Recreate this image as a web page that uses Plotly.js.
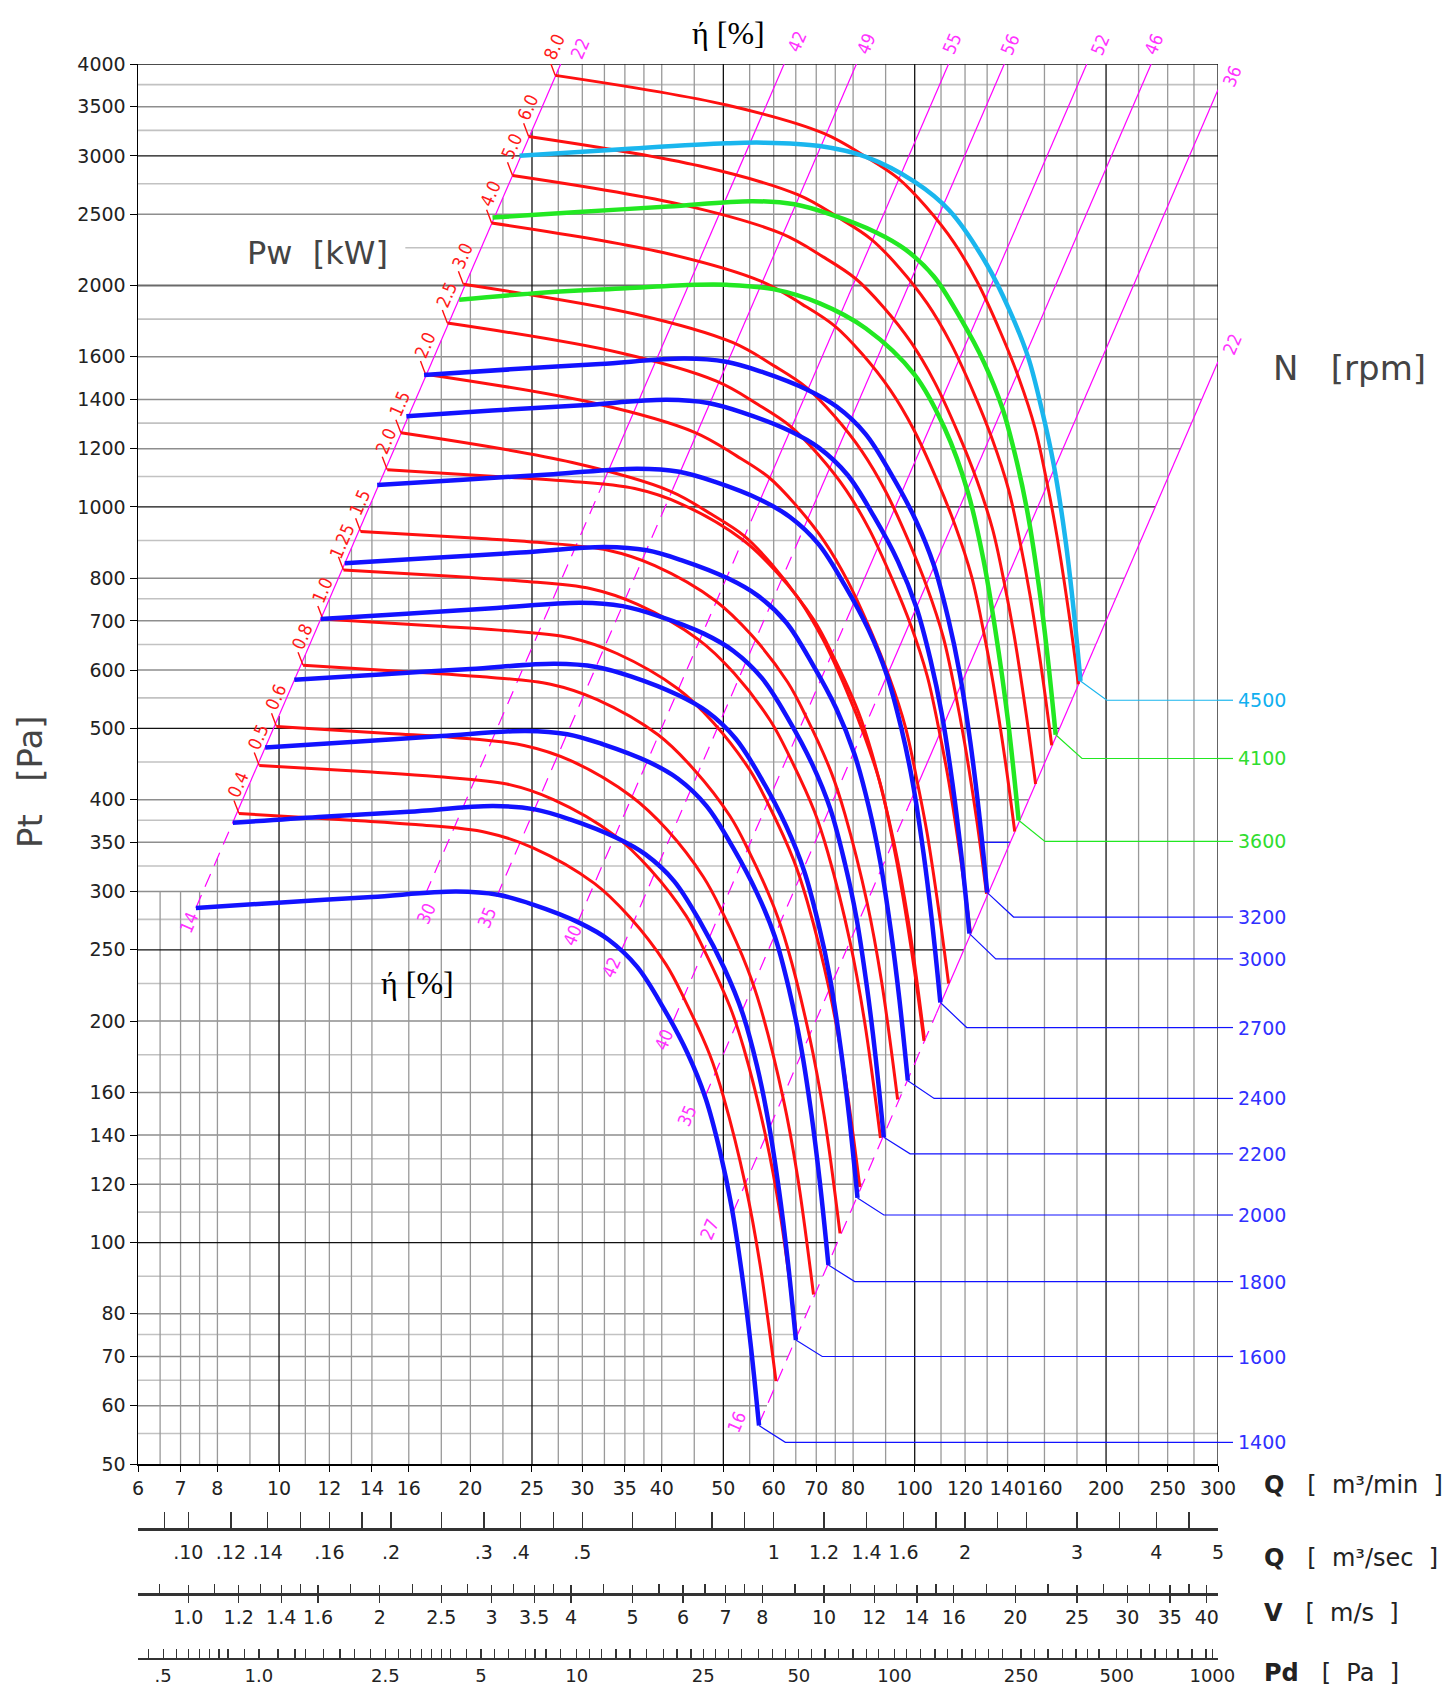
<!DOCTYPE html>
<html>
<head>
<meta charset="utf-8">
<script src="https://cdn.plot.ly/plotly-3.0.1.min.js"></script>
<style>
html,body{margin:0;padding:0;background:#fff;}
#chart{width:1454px;height:1689px;}
</style>
</head>
<body>
<div id="chart"></div>
<script>
// ================= DATA =================
// Main axes
const qTicks = [6,7,8,10,12,14,16,20,25,30,35,40,50,60,70,80,100,120,140,160,200,250,300];
const ptTicks = [50,60,70,80,100,120,140,160,200,250,300,350,400,500,600,700,800,1000,1200,1400,1600,2000,2500,3000,3500,4000];

// Grid values
const gridQ = [6.5,7,7.5,8,9,11,12,13,14,16,18,20,22.5,27.5,30,32.5,35,37.5,40,45,55,60,65,70,75,80,90,110,120,130,140,160,180,225,250,275];
const gridQDark = [10,25,50,100,200,300];
const gridP = [55,60,65,70,75,80,90,110,120,130,140,160,180,200,225,275,300,325,350,375,400,450,550,600,650,700,750,800,900,1100,1200,1300,1400,1600,1800,2250,2500,2750,3250,3500,3750];
const gridPMid = [2000];
const gridPDark = [100,250,500,1000,3000,4000];
const gridPStartQ = {2250: 15.8};
const blueGridP = [350];

// Secondary scales
const outletArea = 0.12;   // m2
const airDensity = 1.2;    // kg/m3
const qsLabelVals = [0.12,0.14,0.16,0.2,0.25,0.35,0.4,0.5,1,1.2,1.4,1.6,2,3,4,5];
const qsLabelText = ['.10','.12','.14','.16','.2','.3','.4','.5','1','1.2','1.4','1.6','2','3','4','5'];
const qsMinor = [0.11,0.18,0.225,0.3,0.45,0.6,0.7,0.8,0.9,1.8,2.25,2.5,3.5,4.5];
const vLabelVals = [1,1.2,1.4,1.6,2,2.5,3,3.5,4,5,6,7,8,10,12,14,16,20,25,30,35,40];
const vLabelText = ['1.0','1.2','1.4','1.6','2','2.5','3','3.5','4','5','6','7','8','10','12','14','16','20','25','30','35','40'];
const vMinor = [0.9,1.1,1.3,1.5,1.8,2.25,2.75,3.25,3.75,4.5,5.5,6.5,7.5,9,11,13,15,18,22.5,27.5,32.5,37.5];
const pdLabelVals = [0.5,1,2.5,5,10,25,50,100,250,500,1000];
const pdLabelText = ['.5','1.0','2.5','5','10','25','50','100','250','500','1000'];
const pdMinor = [0.45,0.55,0.6,0.65,0.7,0.75,0.8,0.9,1.15,1.3,1.4,1.6,1.8,2,2.25,2.75,3,3.25,3.5,3.75,4,4.5,5.5,6.1,6.9,7.4,8,8.9,11,12,13.3,14.7,16.6,18.8,20.7,22.9,27.4,30,33,37.4,41.4,45.3,54.7,60.4,66.8,74,81.7,89,109,121,134,147,163,180,198,219,275,304,337,372,404,440,542,596,660,719,779,862,954];

// Speed curves  Q [m3/min], Pt [Pa]
const q1400 = [7.4,10.1,14,19,22.1,25.1,29.7,33,36.6,40.3,43.9,46.9,49.4,51.5,53.5,55.2,56.9];
const p1400 = [285,290,295,300,297,288,272,258,237,208,181,157,133,112,90.4,72.7,56.4];
const q1600 = [8.46,11.54,16.0,21.71,25.26,28.69,33.94,37.71,41.83,46.06,50.17,53.6,56.46,58.86,61.14,63.09,65.03];
const p1600 = [372,379,385,392,388,376,355,337,310,272,236,205,174,146,118.1,95.0,73.7];
const q1800 = [9.51,12.99,18.0,24.43,28.41,32.27,38.19,42.43,47.06,51.81,56.44,60.3,63.51,66.21,68.79,70.97,73.16];
const p1800 = [471,479,488,496,491,476,450,427,392,344,299,260,220,185,149.4,120.2,93.2];
const q2000 = [10.57,14.43,20.0,27.14,31.57,35.86,42.43,47.14,52.29,57.57,62.71,67.0,70.57,73.57,76.43,78.86,81.29];
const p2000 = [582,592,602,612,606,588,555,527,484,425,369,320,271,229,184.5,148.4,115];
const q2200 = [11.63,15.87,22.0,29.86,34.73,39.44,46.67,51.86,57.51,63.33,68.99,73.7,77.63,80.93,84.07,86.74,89.41];
const p2200 = [704,716,729,741,733,711,672,637,585,514,447,388,328,277,223.2,179.5,139];
const q2400 = [12.69,17.31,24.0,32.57,37.89,43.03,50.91,56.57,62.74,69.09,75.26,80.4,84.69,88.29,91.71,94.63,97.54];
const p2400 = [838,852,867,882,873,846,799,758,697,611,532,461,391,329,265.7,213.6,166];
const q2700 = [14.27,19.48,27.0,36.64,42.62,48.41,57.28,63.64,70.59,77.72,84.66,90.45,95.27,99.32,103.18,106.46,109.74];
const p2700 = [1071,1089,1108,1127,1116,1082,1022,969,890,781,680,590,500,421,339.6,273.1,212];
const q3000 = [15.86,21.64,30.0,40.71,47.36,53.79,63.64,70.71,78.43,86.36,94.07,100.5,105.86,110.36,114.64,118.29,121.93];
const p3000 = [1328,1352,1375,1398,1384,1342,1268,1203,1105,969,844,732,620,522,421.3,338.8,263];
const q3200 = [16.91,23.09,32.0,43.43,50.51,57.37,67.89,75.43,83.66,92.11,100.34,107.2,112.91,117.71,122.29,126.17,130.06];
const p3200 = [1511,1538,1564,1591,1575,1527,1442,1368,1257,1103,960,833,705,594,479.4,385.5,299];
const q3600 = [19.2,25.1,35.1,45.2,50.6,59.9,70.9,83.8,100,111.5,121.3,128.3,134,140.2,145.7];
const p3600 = [1912,1951,1982,2004,2004,1977,1891,1748,1512,1278,1046,847,678,512,375];
const q4100 = [21.67,29.58,41.0,55.64,64.72,73.51,86.98,96.64,107.19,118.02,128.56,137.35,144.67,150.82,156.68,161.66,166.64];
const p4100 = [2474,2517,2561,2604,2578,2500,2361,2239,2057,1805,1571,1363,1154,972,784.6,631,490];
const q4500 = [23.9,35.1,50.6,57.9,70.9,83.8,100,113.4,129.7,141,150.8,158.6,165.4,172.5,178.1,182.3];
const p4500 = [3001,3066,3121,3127,3094,2991,2766,2529,2139,1850,1598,1352,1143,907,716,580];

const rpm = [1400,1600,1800,2000,2200,2400,2700,3000,3200,3600,4100,4500];
const rpmLabelPt = [53.5,70,88.5,109,132,157,196,243,277,351,455,546];
const speedQ = [q1400,q1600,q1800,q2000,q2200,q2400,q2700,q3000,q3200,q3600,q4100,q4500];
const speedP = [p1400,p1600,p1800,p2000,p2200,p2400,p2700,p3000,p3200,p3600,p4100,p4500];

// Power curves (red)
const qR1 = [27.2,50.6,72.1,83.8,94.2,104.2,115.3,125.4,136.4,145.9,154.7,161.4,167.3,174.9,180.9];
const pR1 = [3860,3518,3217,2991,2796,2558,2287,2023,1729,1495,1278,1081,916,714.5,574];
const qR2 = [24.7,45.95,65.47,76.10,85.54,94.62,104.70,113.87,123.86,132.49,140.48,146.57,151.9,158.8,164.27];
const pR2 = [3188,2906,2657,2470,2309,2113,1889,1671,1428,1235,1056,893,757,590,474];
const qR3 = [23.3,43.35,61.76,71.79,80.69,89.26,98.77,107.42,116.84,124.98,132.52,138.26,143.3,149.8,154.96];
const pR3 = [2822,2572,2352,2187,2044,1870,1672,1479,1264,1093,934,790,670,522,420];
const qR4 = [21.6,40.18,57.26,66.55,74.81,82.75,91.56,99.58,108.32,115.86,122.85,128.17,132.8,138.9,143.66];
const pR4 = [2432,2217,2027,1885,1762,1612,1441,1275,1089,942,805,681,577,450,362];
const qR5 = [19.5,36.28,51.69,60.08,67.53,74.70,82.66,89.90,97.79,104.60,110.91,115.71,119.9,125.4,129.69];
const pR5 = [2007,1829,1673,1555,1454,1330,1189,1052,899,777,665,562,476,371.5,298];
const qR6 = [18.4,34.23,48.77,56.69,63.72,70.49,78.0,84.83,92.27,98.70,104.65,109.18,113.2,118.3,122.37];
const pR6 = [1778,1621,1482,1378,1288,1178,1054,932,796,689,589,498,422,329,264];
const qR7 = [17.0,31.63,45.06,52.38,58.87,65.13,72.06,78.38,85.25,91.19,96.69,100.87,104.6,109.3,113.06];
const pR7 = [1515,1381,1263,1174,1098,1004,898,794,679,587,502,424,360,280,225];
const qR8 = [15.55,28.93,41.22,47.91,53.85,59.57,65.92,71.69,77.98,83.41,88.44,92.27,95.6,100.0,103.42];
const pR8 = [1261,1149,1051,977,914,836,747,661,565,488,418,353,299,233,188];
const qR9 = [14.8,22.24,28.06,36.27,42.95,53.55,60.92,69.47,74.44,81.44,85.54,92.74,97.69,103.51];
const pR9 = [1123,1099,1085,1059,1009,903,812,701,627,528,464,350,274,190];
const qR10 = [13.44,20.20,25.48,32.94,39.00,48.63,55.32,63.09,67.60,73.96,77.68,84.22,88.72,94.0];
const pR10 = [926,907,895,873,832,745,670,578,517,435,382,289,226,156.5];
const qR11 = [12.63,18.98,23.95,30.96,36.65,45.70,51.99,59.29,63.53,69.50,73.0,79.14,83.37,88.33];
const pR11 = [821,804,793,774,737,660,594,512,458,386,339,256,200,138.7];
const qR12 = [11.72,17.62,22.22,28.73,34.01,42.40,48.24,55.01,58.95,64.50,67.74,73.44,77.36,81.97];
const pR12 = [704,689,680,664,632,566,509,439,393,331,291,220,172,119];
const qR13 = [10.91,16.40,20.69,26.74,31.66,39.47,44.91,51.21,54.88,60.04,63.06,68.36,72.02,76.30];
const pR13 = [609,596,588,574,547,490,440,380,340,286,252,190,149,102.9];
const qR14 = [9.91,14.89,18.79,24.29,28.76,35.85,40.79,46.52,49.85,54.53,57.28,62.10,65.42,69.31];
const pR14 = [503,492,486,474,452,404,364,314,281,236,208,157,123,85.0];
const qR15 = [9.31,13.99,17.65,22.82,27.02,33.68,38.32,43.70,46.83,51.23,53.81,58.34,61.46,65.11];
const pR15 = [445,436,430,420,400,358,322,278,248,209,184,139,109,75.2];
const qR16 = [8.65,13.0,16.4,21.2,25.1,31.3,35.6,40.6,43.5,47.6,50.0,54.2,57.1,60.5];
const pR16 = [383,375,370,361,344,308,277,239,213.6,180,158,119.4,93.4,64.8];
const redQ = [qR1,qR2,qR3,qR4,qR5,qR6,qR7,qR8,qR9,qR10,qR11,qR12,qR13,qR14,qR15,qR16];
const redP = [pR1,pR2,pR3,pR4,pR5,pR6,pR7,pR8,pR9,pR10,pR11,pR12,pR13,pR14,pR15,pR16];
const pwLabels = ['8.0','6.0','5.0','4.0','3.0','2.5','2.0','1.5','2.0','1.5','1.25','1.0','0.8','0.6','0.5','0.4'];

// Efficiency (system) lines: bottom point, dash->solid switch point, top point
const effBottomQ = [7.4,17.0,22.0,29.5,34.6,41.7,46.8,51.8,56.9];
const effBottomP = [285,297.7,295.2,272.4,250.2,200,157.9,110,56.7];
const effSwitchQ = [8.60,32.08,41.59,56.38,66.71,78.02,88.13,97.53,108.2];
const effSwitchP = [385,1060,1055,995,930,700,560,390,205];
const effTopQ = [27.74,62.32,80.98,113.05,138.34,186.5,235.5,300,300];
const effTopP = [4000,4000,4000,4000,4000,4000,4000,3690,1575];
const effBottomText = ['14','30','35','40','42','40','35','27','16'];
const effTopText = ['22','42','49','55','56','52','46','36','22'];
const effBottomLabQ = [7.22,17.05,21.2,29.0,33.4,40.3,43.8,47.6,52.5];
const effBottomLabP = [272,280,277,262,237,189,149,104.4,57.1];
const effTopLabQ = [29.7,65.2,83.8,114.3,141,195.6,237.3];
const effRightLabP = [3846,1663];

// ================= STYLE =================
const L = Math.log10;
const FONT = 'DejaVu Sans, Liberation Sans, sans-serif';
const NARROW = 'Liberation Sans Narrow, DejaVu Sans Condensed, DejaVu Sans, sans-serif';
const BLUE = '#1212ff', RED = '#ff1010', GREEN = '#22e822', CYAN = '#1ab6ee', MAG = '#ff00ff';
const DOM_X = 1080/1095;
const DOM_YB = (1683-1464)/1619;
const NB = '\u00a0';
const SMOOTH = 1.0;
function speedColor(n){ return n===4500 ? CYAN : (n===4100||n===3600) ? GREEN : BLUE; }
function labelColor(n){ return n===4500 ? '#10b0f0' : (n===4100||n===3600) ? '#30dd30' : '#3030ff'; }

// ================= BUILD =================
const traces = [];
const kL = effTopP[0]/(effTopQ[0]*effTopQ[0]);
const kR = effTopP[8]/(effTopQ[8]*effTopQ[8]);
function hEnd(p){ return (p>=effTopP[8] || p<effBottomP[8]) ? 300 : Math.min(300,Math.sqrt(p/kR)); }
function vGrid(list){
  const x=[],y=[];
  list.forEach(q=>{ const top=Math.min(4000,Math.max(300,kL*q*q)); x.push(q,q,null); y.push(50,top,null); });
  return {x,y};
}
function hGrid(list){
  const x=[],y=[];
  list.forEach(p=>{ x.push(gridPStartQ[p]||6,hEnd(p),null); y.push(p,p,null); });
  return {x,y};
}
function lineTrace(d,color,width,dash,axis){
  return {x:d.x,y:d.y,type:'scatter',mode:'lines',xaxis:axis||'x',yaxis:'y',
    line:{color:color,width:width,dash:dash||'solid'},hoverinfo:'skip',showlegend:false,connectgaps:false};
}
// Q where a curve crosses a given Pt (on its falling side)
function crossQ(q,p,level){
  for(let i=p.length-1;i>0;i--){
    if((p[i]-level)*(p[i-1]-level)<=0){
      const t=(L(level)-L(p[i-1]))/(L(p[i])-L(p[i-1]));
      return Math.pow(10,L(q[i-1])+t*(L(q[i])-L(q[i-1])));
    }
  }
  return q[q.length-1];
}
const gridPLabeled = gridP.filter(p=>ptTicks.includes(p));
const gridPPlain = gridP.filter(p=>!ptTicks.includes(p));
traces.push(lineTrace(hGrid(gridPPlain),'#c2c2c2',1.6));
traces.push(lineTrace(hGrid(gridPLabeled),'#8e8e8e',1.5));
traces.push(lineTrace(vGrid(gridQ),'#999',1.3));
traces.push(lineTrace(hGrid(gridPMid),'#6a6a6a',2));
traces.push(lineTrace(vGrid(gridQDark),'#111',1.3));
traces.push(lineTrace(hGrid(gridPDark),'#111',1.3));
// short blue grid piece between the 3200 rpm curve and the boundary line
{
  const x=[],y=[];
  blueGridP.forEach(p=>{ x.push(crossQ(q3200,p3200,p),hEnd(p),null); y.push(p,p,null); });
  traces.push(lineTrace({x,y},BLUE,1.3));
}

// efficiency lines
const dX=[],dY=[],sX=[],sY=[];
effBottomQ.forEach((q,i)=>{
  dX.push(q,effSwitchQ[i],null); dY.push(effBottomP[i],effSwitchP[i],null);
  sX.push(effSwitchQ[i],effTopQ[i],null); sY.push(effSwitchP[i],effTopP[i],null);
});
traces.push(lineTrace({x:dX,y:dY},MAG,1.2,'14px,9px'));
traces.push(lineTrace({x:sX,y:sY},MAG,1.2));

// red power curves (with the small label tick at each start)
const tX=[],tY=[];
redQ.forEach((q,i)=>{
  traces.push({x:q,y:redP[i],type:'scatter',mode:'lines',line:{color:RED,width:3,shape:'spline',smoothing:SMOOTH},hoverinfo:'skip',showlegend:false});
  tX.push(q[0],q[0]*0.982,null); tY.push(redP[i][0],redP[i][0]*1.042,null);
});
traces.push(lineTrace({x:tX,y:tY},RED,1.4));
// speed curves + leaders
rpm.forEach((n,i)=>{
  const q=speedQ[i], p=speedP[i];
  traces.push({x:q,y:p,type:'scatter',mode:'lines',line:{color:speedColor(n),width:4.5,shape:'spline',smoothing:SMOOTH},hoverinfo:'skip',showlegend:false});
  const qe=q[q.length-1], pe=p[p.length-1];
  traces.push(lineTrace({x:[qe,qe*1.1,300],y:[pe,rpmLabelPt[i],rpmLabelPt[i]]},speedColor(n),1.2));
  traces.push(lineTrace({x:[0,1],y:[rpmLabelPt[i],rpmLabelPt[i]]},speedColor(n),1.2,'solid','x5'));
});
// dummy traces for secondary scales
['x2','x3','x4','x6'].forEach(ax=>traces.push({x:[1],y:[100],xaxis:ax,yaxis:'y',type:'scatter',mode:'markers',marker:{opacity:0,size:1},hoverinfo:'skip',showlegend:false}));

// ================= ANNOTATIONS =================
const ann=[];
function A(o){ o.showarrow=false; if(!o.xanchor) o.xanchor='center'; if(!o.yanchor) o.yanchor='middle'; ann.push(o); }
redQ.forEach((q,i)=>A({x:L(q[0]),y:L(redP[i][0]),xref:'x',yref:'y',text:pwLabels[i],textangle:-66.6,xshift:-1,yshift:29,font:{family:NARROW,size:18,color:'#ff1a1a'}}));
effBottomText.forEach((t,i)=>A({x:L(effBottomLabQ[i]),y:L(effBottomLabP[i]),xref:'x',yref:'y',text:t,textangle:-66.6,font:{family:NARROW,size:18,color:'#ff33ff'}}));
const topShift=[16,23,21,21,20,20,20];
effTopLabQ.forEach((q,i)=>A({x:L(q),y:1,xref:'x',yref:'paper',yshift:topShift[i],text:effTopText[i],textangle:-66.6,font:{family:NARROW,size:18,color:'#ff33ff'}}));
effRightLabP.forEach((p,i)=>A({x:DOM_X,y:L(p),xref:'paper',yref:'y',xshift:14,text:effTopText[7+i],textangle:-66.6,font:{family:NARROW,size:18,color:'#ff33ff'}}));
rpm.forEach((n,i)=>A({x:1,y:L(rpmLabelPt[i]),xref:'paper',yref:'y',xanchor:'left',xshift:3,text:String(n),font:{family:FONT,size:19,color:labelColor(n)}}));
A({x:L(51),y:1,xref:'x',yref:'paper',yshift:31,text:'ή [%]',font:{family:'Liberation Serif, DejaVu Serif, serif',size:32,color:'#000'}});
A({x:L(16.5),y:L(225),xref:'x',yref:'y',text:'ή [%]',font:{family:'Liberation Serif, DejaVu Serif, serif',size:32,color:'#000'}});
A({x:L(11.5),y:L(2215),xref:'x',yref:'y',text:'Pw'+NB+NB+'[kW]',bgcolor:'#fff',borderpad:4,font:{family:FONT,size:32,color:'#444'}});
A({x:(1350-138)/1095,y:(1683-368)/1619,xref:'paper',yref:'paper',text:'N'+NB+NB+NB+'[rpm]',font:{family:FONT,size:34,color:'#444'}});
A({x:(30-138)/1095,y:(1683-782)/1619,xref:'paper',yref:'paper',text:'Pt'+NB+NB+NB+'[Pa]',textangle:-90,font:{family:FONT,size:34,color:'#444'}});
const axTitles=[['Q','m³/min',(1683-1485)/1619],['Q','m³/sec',(1683-1558)/1619],['V','m/s',(1683-1613)/1619],['Pd','Pa',(1683-1673)/1619]];
axTitles.forEach(t=>A({x:1,y:t[2],xref:'paper',yref:'paper',xanchor:'left',xshift:29,
  text:'<b>'+t[0]+'</b>'+NB+NB+NB+'['+NB+NB+t[1]+NB+NB+']',font:{family:FONT,size:24,color:'#222'}}));

// ================= LAYOUT =================
const tickFont={family:FONT,size:19,color:'#222'};
const eps=1e-6;
const vMin=6/60/outletArea, vMax=300/60/outletArea;
const pdMin=0.5*airDensity*vMin*vMin, pdMax=0.5*airDensity*vMax*vMax;
const posQs=(1683-1529.3)/1619, posV=(1683-1594.3)/1619, posPd=(1683-1658.7)/1619;
function secAxis(pos,range,vals,text,minor,len,standoff,fsize,majorTicks,majorLen){
  return {overlaying:'x',anchor:'free',position:pos,type:'log',range:range,
    tickmode:'array',tickvals:vals,ticktext:text,ticks:majorTicks,ticklen:majorLen,tickwidth:1.3,tickcolor:'#333',
    minor:{tickmode:'array',tickvals:minor,ticks:'inside',ticklen:len,tickwidth:1.3,tickcolor:'#333',showgrid:false},
    showline:true,linecolor:'#333',linewidth:2.5,showgrid:false,zeroline:false,
    tickfont:{family:FONT,size:fsize,color:'#222'},tickangle:0,ticklabelstandoff:standoff,fixedrange:true};
}
const layout={
  width:1454,height:1689,
  margin:{l:138,r:221,t:64,b:6},
  paper_bgcolor:'#fff',plot_bgcolor:'#fff',
  showlegend:false,hovermode:false,
  xaxis:{type:'log',domain:[0,DOM_X],range:[L(6)-eps,L(300)+eps],anchor:'y',
    tickmode:'array',tickvals:qTicks,ticktext:qTicks.map(String),ticks:'outside',ticklen:6,tickcolor:'#000',
    showline:true,linecolor:'#000',linewidth:2,showgrid:false,zeroline:false,tickfont:tickFont,tickangle:0,fixedrange:true},
  yaxis:{type:'log',domain:[DOM_YB,1],range:[L(50)-eps,L(4000)+eps],anchor:'x',
    tickmode:'array',tickvals:ptTicks,ticktext:ptTicks.map(String),ticks:'outside',ticklen:7,tickcolor:'#000',
    showline:true,linecolor:'#000',linewidth:1.5,showgrid:false,zeroline:false,tickfont:tickFont,fixedrange:true},
  xaxis2:secAxis(posQs,[L(0.1)-eps,L(5)+eps],qsLabelVals,qsLabelText,qsMinor,16,5,19,'inside',16),
  xaxis3:secAxis(posV,[L(vMin)-eps,L(vMax)+eps],vLabelVals,vLabelText,vMinor,9,-2,19,'outside',7),
  xaxis4:secAxis(posPd,[L(pdMin)-eps,L(pdMax)+eps],pdLabelVals,pdLabelText,pdMinor,9,0,18,'inside',9),
  xaxis5:{domain:[DOM_X,1],anchor:'y',range:[0,1],visible:false,fixedrange:true},
  // upper half of the labelled V ticks (they cross the scale line)
  xaxis6:{overlaying:'x',anchor:'free',position:posV,type:'log',range:[L(vMin)-eps,L(vMax)+eps],
    tickmode:'array',tickvals:vLabelVals,ticks:'inside',ticklen:9,tickwidth:1.3,tickcolor:'#333',
    showticklabels:false,showline:false,showgrid:false,zeroline:false,fixedrange:true},
  annotations:ann
};
Plotly.newPlot('chart',traces,layout,{displayModeBar:false,staticPlot:true});
</script>
</body>
</html>
